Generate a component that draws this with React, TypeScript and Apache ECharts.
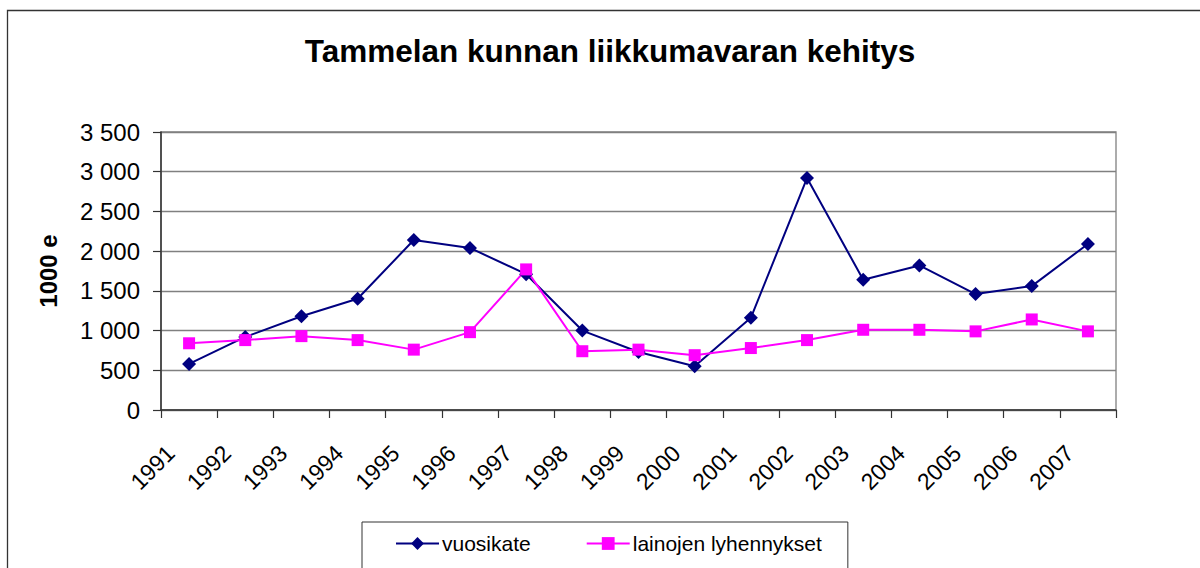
import React, { useEffect, useRef } from "react";
import * as echarts from "echarts";

const title = "Tammelan kunnan liikkumavaran kehitys";
const yAxisName = "1000 e";
const years = ["1991", "1992", "1993", "1994", "1995", "1996", "1997", "1998", "1999", "2000", "2001", "2002", "2003", "2004", "2005", "2006", "2007"];
const vuosikate = [580, 920, 1180, 1400, 2140, 2040, 1710, 1000, 730, 550, 1160, 2920, 1640, 1820, 1460, 1560, 2090];
const lainojenLyhennykset = [840, 880, 930, 880, 760, 980, 1770, 740, 760, 690, 780, 880, 1010, 1010, 990, 1140, 990];
const seriesNames = ["vuosikate", "lainojen lyhennykset"];

const FONT = "'Liberation Sans', Arial, sans-serif";

function fmt(v: number): string {
  return String(v).replace(/\B(?=(\d{3})+(?!\d))/g, " ");
}

export default function App() {
  const ref = useRef<HTMLDivElement>(null);
  useEffect(() => {
    if (!ref.current) return;
    const chart = echarts.init(ref.current, null, { renderer: "svg" });
    chart.setOption({
      animation: false,
      backgroundColor: "#ffffff",
      textStyle: { fontFamily: FONT, color: "#000" },
      title: {
        text: title,
        left: 605,
        top: 30,
        textAlign: "center",
        textStyle: { fontFamily: FONT, fontSize: 31.5, fontWeight: "bold", color: "#000" },
      },
      graphic: [
        {
          type: "rect",
          shape: { x: 7.5, y: 10.5, width: 1300, height: 700 },
          style: { fill: "none", stroke: "#333", lineWidth: 1.3 },
          silent: true,
          z: 100,
        },
      ],
      legend: {
        data: seriesNames,
        left: 362,
        top: 522,
        orient: "horizontal",
        itemWidth: 43,
        itemHeight: 16,
        itemGap: 55,
        padding: [11, 26, 24, 33],
        borderColor: "#333",
        borderWidth: 1,
        textStyle: { fontFamily: FONT, fontSize: 21, color: "#000", padding: [0, 0, 0, -2] },
      },
      grid: {
        left: 161,
        right: 84,
        top: 132,
        bottom: 158,
        show: true,
        borderColor: "#808080",
        borderWidth: 1.3,
      },
      xAxis: {
        type: "category",
        data: years,
        boundaryGap: true,
        axisLine: { lineStyle: { color: "#333", width: 1.5 } },
        axisTick: { show: true, length: 8, lineStyle: { color: "#333", width: 1.2 } },
        axisLabel: {
          rotate: 45,
          margin: 21,
          fontFamily: FONT,
          fontSize: 23,
          color: "#000",
          interval: 0,
          padding: [0, 26, 8, 0],
        },
      },
      yAxis: {
        type: "value",
        min: 0,
        max: 3500,
        interval: 500,
        name: yAxisName,
        nameLocation: "middle",
        nameRotate: 90,
        nameGap: 101,
        nameTextStyle: { fontFamily: FONT, fontSize: 24, fontWeight: "bold", color: "#000" },
        axisLine: { show: true, lineStyle: { color: "#333", width: 1.5 } },
        axisTick: { show: true, length: 8, lineStyle: { color: "#333", width: 1.2 } },
        axisLabel: {
          margin: 21,
          fontFamily: FONT,
          fontSize: 24,
          color: "#000",
          formatter: (v: number) => fmt(v),
        },
        splitLine: { show: true, lineStyle: { color: "#808080", width: 1.3 } },
      },
      series: [
        {
          name: seriesNames[0],
          type: "line",
          data: vuosikate,
          symbol: "diamond",
          symbolSize: 14,
          showAllSymbol: true,
          itemStyle: { color: "#000080" },
          lineStyle: { color: "#000080", width: 2 },
        },
        {
          name: seriesNames[1],
          type: "line",
          data: lainojenLyhennykset,
          symbol: "rect",
          symbolSize: 12,
          showAllSymbol: true,
          itemStyle: { color: "#ff00ff" },
          lineStyle: { color: "#ff00ff", width: 2 },
        },
      ],
    });
    return () => chart.dispose();
  }, []);
  return (
    <div
      ref={ref}
      style={{ position: "fixed", left: 0, top: 0, width: 1200, height: 568 }}
    />
  );
}
